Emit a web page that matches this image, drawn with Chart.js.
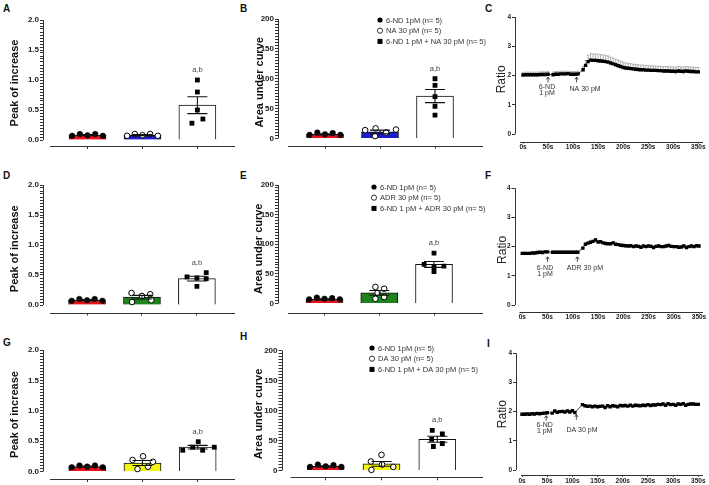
<!DOCTYPE html>
<html>
<head>
<meta charset="utf-8">
<title>6-ND and catecholamines</title>
<script src="https://cdn.jsdelivr.net/npm/chart.js@4.4.1/dist/chart.umd.min.js"></script>
<style>
  body { margin: 0; background: #fff; }
  #fig { position: relative; width: 709px; height: 485px; overflow: hidden; background: #fff; }
  #fig canvas { position: absolute; }
  .tag { position: absolute; font: bold 10px Arial, "Liberation Sans", sans-serif; color: #111; }
</style>
</head>
<body>
<div id="fig">
  <div class="tag" style="left:3px;top:3px">A</div>
  <div class="tag" style="left:240px;top:3px">B</div>
  <div class="tag" style="left:485px;top:3px">C</div>
  <div class="tag" style="left:3px;top:170px">D</div>
  <div class="tag" style="left:240px;top:170px">E</div>
  <div class="tag" style="left:485px;top:170px">F</div>
  <div class="tag" style="left:3px;top:337px">G</div>
  <div class="tag" style="left:240px;top:331px">H</div>
  <div class="tag" style="left:487px;top:338px">I</div>
</div>
<script>
var FONT = "Arial, 'Liberation Sans', sans-serif";

// ---- values ----
var ndColor = "#e8141c";
var agColors = ["#1c1ccc", "#1e821e", "#f4f414"];
var ndLabel = "6-ND 1pM (n= 5)";
var agLabels = ["NA 30 pM (n= 5)", "ADR 30 pM (n= 5)", "DA 30 pM (n= 5)"];
var mixLabels = ["6-ND 1 pM + NA 30 pM (n= 5)", "6-ND 1 pM + ADR 30 pM (n= 5)", "6-ND 1 pM + DA 30 pM (n= 5)"];
var stimLabels = ["NA 30 pM", "ADR 30 pM", "DA 30 pM"];
var sigLabel = "a,b";

// jitter of the individual cells inside each bar (category units)
var jitRow = [-0.28, -0.14, 0, 0.14, 0.28];

// NA
var peakMeanNA = [0.08, 0.08, 0.58];
var peakSemNA = [0.01, 0.01, 0.14];
var peakNdNA = [0.07, 0.10, 0.08, 0.10, 0.07];
var peakAgNA = [0.07, 0.10, 0.08, 0.10, 0.07];
var peakMixNA = [1.00, 0.80, 0.50, 0.35, 0.28];
var jitPeakMixNA = [0, 0, 0, 0.1, -0.1];
var aucMeanNA = [7, 11, 71];
var aucSemNA = [1, 3, 11];
var aucNdNA = [6, 10, 7, 9, 6];
var aucAgNA = [14, 4, 17, 10, 15];
var jitAucAgNA = [-0.27, -0.09, -0.08, 0.11, 0.29];
var aucMixNA = [100, 89, 70, 54, 39];
var jitAucMixNA = [0, 0, 0, 0, 0];

// ADR
var peakMeanADR = [0.08, 0.13, 0.44];
var peakSemADR = [0.01, 0.03, 0.04];
var peakNdADR = [0.07, 0.10, 0.08, 0.10, 0.07];
var peakAgADR = [0.20, 0.05, 0.15, 0.18, 0.08];
var jitPeakAgADR = [-0.19, -0.18, 0, 0.15, 0.17];
var peakMixADR = [0.47, 0.45, 0.54, 0.44, 0.31];
var jitPeakMixADR = [-0.18, 0, 0.17, 0.17, 0];
var aucMeanADR = [7, 18, 66];
var aucSemADR = [1, 4, 5];
var aucNdADR = [7, 10, 8, 9, 7];
var aucAgADR = [28, 25, 18, 8, 11];
var jitAucAgADR = [-0.07, 0.09, -0.03, -0.07, 0.09];
var aucMixADR = [85, 66, 63, 62, 54];
var jitAucMixADR = [0, -0.18, 0.18, 0, 0];

// DA
var peakMeanDA = [0.08, 0.14, 0.40];
var peakSemDA = [0.01, 0.04, 0.03];
var peakNdDA = [0.07, 0.10, 0.08, 0.10, 0.07];
var peakAgDA = [0.19, 0.25, 0.16, 0.04, 0.08];
var jitPeakAgDA = [-0.18, 0.01, 0.19, -0.09, 0.10];
var peakMixDA = [0.35, 0.40, 0.49, 0.35, 0.40];
var jitPeakMixDA = [-0.27, -0.09, 0.01, 0.09, 0.30];
var aucMeanDA = [7, 11, 52];
var aucSemDA = [1, 4, 5];
var aucNdDA = [6, 10, 7, 9, 6];
var aucAgDA = [15, 26, 10, 1, 6];
var jitAucAgDA = [-0.19, 0, 0.01, -0.18, 0.21];
var aucMixDA = [67, 61, 52, 45, 40];
var jitAucMixDA = [-0.09, 0.09, -0.10, 0.09, -0.07];

// ratio traces, one point every 5 s
var timeS = [0, 5, 10, 15, 20, 25, 30, 35, 40, 45,
  50, 55, 60, 65, 70, 75, 80, 85, 90, 95,
  100, 105, 110, 115, 120, 125, 130, 135, 140, 145,
  150, 155, 160, 165, 170, 175, 180, 185, 190, 195,
  200, 205, 210, 215, 220, 225, 230, 235, 240, 245,
  250, 255, 260, 265, 270, 275, 280, 285, 290, 295,
  300, 305, 310, 315, 320, 325, 330, 335, 340, 345,
  350];
var xTicks = [0, 50, 100, 150, 200, 250, 300, 350];

var ratioNA = [2.02, 2.03, 2.03, 2.03, 2.03, 2.03, 2.03, 2.04, 2.04, 2.04,
  2.05, null, 2.03, 2.05, 2.05, 2.06, 2.06, 2.06, 2.07, 2.05,
  2.05, 2.05, 2.06, null, 2.20, 2.35, 2.48, 2.53, 2.52, 2.52,
  2.51, 2.50, 2.49, 2.48, 2.46, 2.43, 2.40, 2.37, 2.34, 2.31,
  2.28, 2.26, 2.25, 2.24, 2.23, 2.22, 2.21, 2.20, 2.20, 2.19,
  2.19, 2.18, 2.18, 2.18, 2.17, 2.17, 2.16, 2.16, 2.16, 2.15,
  2.15, 2.14, 2.16, 2.15, 2.14, 2.16, 2.15, 2.14, 2.14, 2.13,
  2.13];
var ratioNAErr = [0.09, 0.09, 0.09, 0.09, 0.09, 0.09, 0.09, 0.09, 0.09, 0.09,
  0.09, null, 0.09, 0.09, 0.09, 0.09, 0.09, 0.09, 0.09, 0.09,
  0.09, 0.09, 0.09, null, 0.12, 0.17, 0.21, 0.22, 0.22, 0.22,
  0.22, 0.22, 0.21, 0.21, 0.21, 0.20, 0.20, 0.19, 0.19, 0.18,
  0.18, 0.17, 0.17, 0.17, 0.16, 0.16, 0.16, 0.16, 0.16, 0.16,
  0.15, 0.15, 0.15, 0.15, 0.15, 0.15, 0.15, 0.15, 0.15, 0.15,
  0.15, 0.15, 0.15, 0.15, 0.15, 0.15, 0.15, 0.15, 0.15, 0.15,
  0.15];
var ratioADR = [1.77, 1.77, 1.77, 1.77, 1.78, 1.78, 1.80, 1.81, 1.80, 1.82,
  1.82, null, 1.81, 1.81, 1.81, 1.81, 1.81, 1.81, 1.81, 1.81,
  1.81, 1.81, 1.81, null, 1.95, 2.08, 2.12, 2.15, 2.18, 2.23,
  2.16, 2.17, 2.13, 2.11, 2.10, 2.10, 2.13, 2.08, 2.07, 2.05,
  2.04, 2.03, 2.02, 2.03, 2.00, 2.02, 2.01, 1.98, 2.02, 2.00,
  2.02, 2.01, 1.97, 2.01, 2.02, 2.00, 2.00, 2.02, 2.04, 2.01,
  2.00, 2.00, 1.98, 1.99, 2.02, 1.97, 2.00, 2.02, 2.00, 2.03,
  2.02];
var ratioADRErr = [0.03, 0.03, 0.03, 0.03, 0.03, 0.03, 0.03, 0.03, 0.03, 0.03,
  0.03, null, 0.03, 0.03, 0.03, 0.03, 0.03, 0.03, 0.03, 0.03,
  0.03, 0.03, 0.03, null, 0.04, 0.04, 0.04, 0.04, 0.04, 0.04,
  0.04, 0.04, 0.04, 0.04, 0.04, 0.04, 0.04, 0.04, 0.04, 0.04,
  0.04, 0.04, 0.04, 0.04, 0.04, 0.04, 0.04, 0.04, 0.04, 0.04,
  0.04, 0.04, 0.04, 0.04, 0.04, 0.04, 0.04, 0.04, 0.04, 0.04,
  0.04, 0.04, 0.04, 0.04, 0.04, 0.04, 0.04, 0.04, 0.04, 0.04,
  0.04];
var ratioDA = [1.91, 1.91, 1.92, 1.91, 1.93, 1.92, 1.94, 1.93, 1.94, 1.95,
  1.96, null, 1.95, 2.02, 1.98, 2.00, 2.01, 1.99, 2.02, 1.99,
  2.03, 1.97, null, null, 2.24, 2.20, 2.18, 2.19, 2.17, 2.19,
  2.17, 2.18, 2.19, 2.14, 2.20, 2.17, 2.20, 2.19, 2.17, 2.21,
  2.20, 2.21, 2.19, 2.22, 2.19, 2.22, 2.21, 2.20, 2.22, 2.21,
  2.24, 2.21, 2.23, 2.23, 2.25, 2.24, 2.26, 2.22, 2.27, 2.24,
  2.25, 2.22, 2.26, 2.25, 2.27, 2.22, 2.25, 2.26, 2.26, 2.25,
  2.25];
var ratioDAErr = [0.03, 0.03, 0.03, 0.03, 0.03, 0.03, 0.03, 0.03, 0.03, 0.03,
  0.03, null, 0.03, 0.03, 0.03, 0.03, 0.03, 0.03, 0.03, 0.03,
  0.03, 0.03, null, null, 0.03, 0.03, 0.03, 0.03, 0.03, 0.03,
  0.03, 0.03, 0.03, 0.03, 0.03, 0.03, 0.03, 0.03, 0.03, 0.03,
  0.03, 0.03, 0.03, 0.03, 0.03, 0.03, 0.03, 0.03, 0.03, 0.03,
  0.03, 0.03, 0.03, 0.03, 0.03, 0.03, 0.03, 0.03, 0.03, 0.03,
  0.03, 0.03, 0.03, 0.03, 0.03, 0.03, 0.03, 0.03, 0.03, 0.03,
  0.03];

// ---- helpers ----
function px2val(p, pA, vA, pB, vB) {
    return vA + (p - pA) * (vB - vA) / (pB - pA);
}

function addCanvas(g) {
    var c = document.createElement('canvas');
    c.width = g.w;
    c.height = g.h;
    c.style.left = g.x + 'px';
    c.style.top = g.y + 'px';
    c.style.width = g.w + 'px';
    c.style.height = g.h + 'px';
    document.getElementById('fig').appendChild(c);
    return c;
}

// axis lines, error bars, significance text, legend and stimulus arrows
function extras(e) {
    return {
        id: 'extras',
        beforeDatasetsDraw: function (chart) {
            if (!e.upperErr) return;
            var ctx = chart.ctx, xs = chart.scales.x, ys = chart.scales.y;
            ctx.save();
            ctx.strokeStyle = '#9a9a9a';
            ctx.lineWidth = 0.8;
            ctx.beginPath();
            e.upperErr.forEach(function (err, i) {
                var v = e.values[i];
                if (err == null || v == null) return;
                var x = xs.getPixelForValue(timeS[i]);
                var y0 = ys.getPixelForValue(v), y1 = ys.getPixelForValue(v + err);
                ctx.moveTo(x, y0);
                ctx.lineTo(x, y1);
                ctx.moveTo(x - 1.2, y1);
                ctx.lineTo(x + 1.2, y1);
            });
            ctx.stroke();
            ctx.restore();
        },
        afterDatasetsDraw: function (chart) {
            var ctx = chart.ctx, xs = chart.scales.x, ys = chart.scales.y, a = chart.chartArea;
            ctx.save();
            ctx.strokeStyle = '#333';
            ctx.lineWidth = 1;
            ctx.beginPath();
            var ax = Math.round(a.left) + 0.5;
            ctx.moveTo(ax, ys.getPixelForValue(0));
            ctx.lineTo(ax, a.top);
            var by = Math.round(a.bottom) + 0.5;
            ctx.moveTo(a.left + e.gap, by);
            ctx.lineTo(a.right, by);
            ctx.stroke();

            if (e.mean) {
                ctx.strokeStyle = '#111';
                ctx.lineWidth = 1.1;
                ctx.beginPath();
                e.mean.forEach(function (m, i) {
                    var cx = xs.getPixelForValue(i);
                    var hi = ys.getPixelForValue(m + e.sem[i]), lo = ys.getPixelForValue(m - e.sem[i]);
                    ctx.moveTo(cx, lo);
                    ctx.lineTo(cx, hi);
                    ctx.moveTo(cx - 10, hi);
                    ctx.lineTo(cx + 10, hi);
                    ctx.moveTo(cx - 10, lo);
                    ctx.lineTo(cx + 10, lo);
                });
                ctx.stroke();
                ctx.fillStyle = '#444';
                ctx.font = '7.5px ' + FONT;
                ctx.textAlign = 'center';
                ctx.textBaseline = 'middle';
                ctx.fillText(sigLabel, xs.getPixelForValue(2), ys.getPixelForValue(e.sigAbove) - 10);
            }

            if (e.legend) {
                ctx.font = '7.5px ' + FONT;
                ctx.textAlign = 'left';
                ctx.textBaseline = 'middle';
                e.legend.labels.forEach(function (t, i) {
                    var lx = e.legend.x, ly = e.legend.y + i * 10.7;
                    ctx.fillStyle = '#000';
                    ctx.strokeStyle = '#000';
                    ctx.lineWidth = 0.8;
                    if (i === 2) {
                        ctx.fillRect(lx - 2.5, ly - 2.5, 5, 5);
                    } else {
                        ctx.beginPath();
                        ctx.arc(lx, ly, 2.6, 0, Math.PI * 2);
                        if (i === 0) ctx.fill(); else ctx.stroke();
                    }
                    ctx.fillStyle = '#333';
                    ctx.fillText(t, lx + 6, ly + 0.5);
                });
            }

            if (e.marks) {
                ctx.strokeStyle = '#222';
                ctx.fillStyle = '#333';
                ctx.lineWidth = 0.8;
                ctx.font = '7px ' + FONT;
                ctx.textAlign = 'center';
                ctx.textBaseline = 'middle';
                e.marks.forEach(function (m) {
                    var x = xs.getPixelForValue(m.t);
                    var y1 = ys.getPixelForValue(m.tip), y2 = ys.getPixelForValue(m.tail);
                    ctx.beginPath();
                    ctx.moveTo(x, y2);
                    ctx.lineTo(x, y1);
                    ctx.moveTo(x - 1.8, y1 + 2.4);
                    ctx.lineTo(x, y1);
                    ctx.lineTo(x + 1.8, y1 + 2.4);
                    ctx.stroke();
                    m.text.forEach(function (s, k) {
                        ctx.fillText(s, xs.getPixelForValue(m.tx), ys.getPixelForValue(m.ty[k]));
                    });
                });
            }
            ctx.restore();
        }
    };
}

function barPanel(g, p) {
    var yMin = px2val(g.bottom, g.zero, 0, g.top, p.yMax);
    var xMin = px2val(g.left, g.c0, 0, g.c2, 2);
    var xMax = px2val(g.right, g.c0, 0, g.c2, 2);
    var yTicks = [];
    for (var k = 0; k <= 40; k++) yTicks.push(p.yMax * k / 40);
    var cells = function (vals, jit, cat) {
        return vals.map(function (v, i) { return { x: cat + jit[i], y: v }; });
    };
    var legend = null;
    if (p.legend) {
        legend = { labels: p.legend, x: g.legendX - g.x, y: g.legendY - g.y };
    }
    new Chart(addCanvas(g).getContext('2d'), {
        type: 'bar',
        data: {
            datasets: [
                { type: 'scatter', data: cells(p.nd, jitRow, 0), pointStyle: 'circle', pointRadius: 2.8,
                  pointBackgroundColor: '#000', pointBorderColor: '#000', pointBorderWidth: 0.5, order: 1 },
                { type: 'scatter', data: cells(p.ag, p.jitAg, 1), pointStyle: 'circle', pointRadius: 2.8,
                  pointBackgroundColor: '#fff', pointBorderColor: '#000', pointBorderWidth: 1, order: 1 },
                { type: 'scatter', data: cells(p.mix, p.jitMix, 2), pointStyle: 'rect', pointRadius: 3.4,
                  pointBackgroundColor: '#000', pointBorderColor: '#000', pointBorderWidth: 0, order: 1 },
                { type: 'bar', data: p.mean.map(function (m, i) { return { x: i, y: m }; }),
                  backgroundColor: [ndColor, p.color, '#fff'], borderColor: '#111', borderWidth: 1,
                  barThickness: 37, order: 2 }
            ]
        },
        options: {
            responsive: false,
            animation: false,
            events: [],
            layout: { padding: { left: 0, top: g.top - g.y, right: g.x + g.w - g.right, bottom: g.y + g.h - g.bottom - 5 } },
            plugins: { legend: { display: false }, tooltip: { enabled: false } },
            scales: {
                x: {
                    type: 'linear', min: xMin, max: xMax, offset: false,
                    afterBuildTicks: function (s) { s.ticks = [0, 1, 2].map(function (v) { return { value: v }; }); },
                    afterFit: function (s) { s.height = 5; },
                    border: { display: false },
                    grid: { drawOnChartArea: false, tickLength: 3, color: '#333', offset: false },
                    ticks: { display: false }
                },
                y: {
                    type: 'linear', min: yMin, max: p.yMax,
                    afterBuildTicks: function (s) { s.ticks = yTicks.map(function (v) { return { value: v }; }); },
                    afterFit: function (s) { s.width = g.left - g.x; },
                    border: { display: false },
                    grid: { drawOnChartArea: false, tickLength: 3, color: '#333' },
                    ticks: {
                        autoSkip: false, padding: 1, color: '#222',
                        font: { size: 8, weight: 'bold', family: FONT },
                        callback: function (v) {
                            var r = v / p.major;
                            return Math.abs(r - Math.round(r)) < 1e-6 ? v.toFixed(p.dec) : '';
                        }
                    },
                    title: { display: true, text: p.title, color: '#111',
                             font: { size: 11, weight: 'bold', family: FONT },
                             padding: { top: g.titleX - g.x - 6.6, bottom: 0 } }
                }
            }
        },
        plugins: [extras({ gap: g.gap, mean: p.mean, sem: p.sem, sigAbove: Math.max.apply(null, p.mix), legend: legend })]
    });
}

function ratioPanel(g, p) {
    var yMin = px2val(g.bottom, g.zero, 0, g.top, 4);
    var xMin = px2val(g.left, g.t0, 0, g.t350, 350);
    var xMax = px2val(g.right, g.t0, 0, g.t350, 350);
    new Chart(addCanvas(g).getContext('2d'), {
        type: 'line',
        data: {
            datasets: [{
                data: timeS.map(function (t, i) { return { x: t, y: p.values[i] }; }),
                borderColor: '#111', borderWidth: 0.8, tension: 0, spanGaps: true,
                pointStyle: 'rect', pointRadius: 2.4, pointBackgroundColor: '#000', pointBorderWidth: 0
            }]
        },
        options: {
            responsive: false,
            animation: false,
            events: [],
            layout: { padding: { left: 0, top: g.top - g.y, right: g.x + g.w - g.right, bottom: g.y + g.h - g.bottom - 10 } },
            plugins: { legend: { display: false }, tooltip: { enabled: false } },
            scales: {
                x: {
                    type: 'linear', min: xMin, max: xMax,
                    afterBuildTicks: function (s) { s.ticks = xTicks.map(function (v) { return { value: v }; }); },
                    afterFit: function (s) { s.height = 10; },
                    border: { display: false },
                    grid: { drawOnChartArea: false, tickLength: 2, color: '#555' },
                    ticks: { autoSkip: false, maxRotation: 0, padding: 0, color: '#222',
                             font: { size: 6.5, weight: 'bold', family: FONT },
                             callback: function (v) { return v + 's'; } }
                },
                y: {
                    type: 'linear', min: yMin, max: 4,
                    afterBuildTicks: function (s) { s.ticks = [0, 1, 2, 3, 4].map(function (v) { return { value: v }; }); },
                    afterFit: function (s) { s.width = g.left - g.x; },
                    border: { display: false },
                    grid: { drawOnChartArea: false, tickLength: 3, color: '#333' },
                    ticks: { padding: 1, color: '#222', font: { size: 6.5, weight: 'bold', family: FONT } },
                    title: { display: true, text: 'Ratio', color: '#222',
                             font: { size: 12, family: FONT },
                             padding: { top: g.titleX - g.x - 7.2, bottom: 0 } }
                }
            }
        },
        plugins: [extras({ gap: 5, upperErr: p.err, values: p.values, marks: p.marks })]
    });
}

// ---- panels ----
var peakTitle = 'Peak of increase', aucTitle = 'Area under curve';

barPanel({ x: 0, y: 0, w: 240, h: 160, left: 43, right: 237, top: 20, zero: 140, bottom: 146, c0: 88, c2: 199, gap: 7, titleX: 15 },
    { yMax: 2, major: 0.5, dec: 1, title: peakTitle, mean: peakMeanNA, sem: peakSemNA, nd: peakNdNA,
      ag: peakAgNA, jitAg: jitRow, mix: peakMixNA, jitMix: jitPeakMixNA, color: agColors[0] });
barPanel({ x: 238, y: 0, w: 250, h: 160, left: 278, right: 483, top: 19, zero: 138.5, bottom: 145.7, c0: 325, c2: 435, gap: 10, titleX: 260,
           legendX: 380, legendY: 20 },
    { yMax: 200, major: 50, dec: 0, title: aucTitle, mean: aucMeanNA, sem: aucSemNA, nd: aucNdNA,
      ag: aucAgNA, jitAg: jitAucAgNA, mix: aucMixNA, jitMix: jitAucMixNA, color: agColors[0],
      legend: [ndLabel, agLabels[0], mixLabels[0]] });
ratioPanel({ x: 486, y: 0, w: 223, h: 160, left: 515, right: 703, top: 17, zero: 134.3, bottom: 141.7, t0: 523, t350: 698.3, titleX: 502 },
    { values: ratioNA, err: ratioNAErr,
      marks: [{ t: 50, tip: 1.95, tail: 1.77, text: ['6-ND', '1 pM'], tx: 48, ty: [1.6, 1.41] },
              { t: 107, tip: 1.95, tail: 1.77, text: [stimLabels[0]], tx: 124, ty: [1.53] }] });

barPanel({ x: 0, y: 165, w: 240, h: 160, left: 43, right: 237, top: 185, zero: 305, bottom: 312.5, c0: 87.5, c2: 198.5, gap: 7, titleX: 15 },
    { yMax: 2, major: 0.5, dec: 1, title: peakTitle, mean: peakMeanADR, sem: peakSemADR, nd: peakNdADR,
      ag: peakAgADR, jitAg: jitPeakAgADR, mix: peakMixADR, jitMix: jitPeakMixADR, color: agColors[1] });
barPanel({ x: 238, y: 165, w: 250, h: 160, left: 278, right: 483, top: 185, zero: 303.5, bottom: 312.5, c0: 324.5, c2: 434, gap: 10, titleX: 259,
           legendX: 374, legendY: 187 },
    { yMax: 200, major: 50, dec: 0, title: aucTitle, mean: aucMeanADR, sem: aucSemADR, nd: aucNdADR,
      ag: aucAgADR, jitAg: jitAucAgADR, mix: aucMixADR, jitMix: jitAucMixADR, color: agColors[1],
      legend: [ndLabel, agLabels[1], mixLabels[1]] });
ratioPanel({ x: 486, y: 165, w: 223, h: 160, left: 514.5, right: 703, top: 188.3, zero: 305, bottom: 311.5, t0: 522.3, t350: 699, titleX: 502.5 },
    { values: ratioADR, err: ratioADRErr,
      marks: [{ t: 50, tip: 1.65, tail: 1.48, text: ['6-ND', '1 pM'], tx: 45, ty: [1.26, 1.06] },
              { t: 109, tip: 1.65, tail: 1.48, text: [stimLabels[1]], tx: 124, ty: [1.26] }] });

barPanel({ x: 0, y: 330, w: 240, h: 155, left: 43, right: 237, top: 350, zero: 471.5, bottom: 479, c0: 87.7, c2: 199.3, gap: 7, titleX: 15 },
    { yMax: 2, major: 0.5, dec: 1, title: peakTitle, mean: peakMeanDA, sem: peakSemDA, nd: peakNdDA,
      ag: peakAgDA, jitAg: jitPeakAgDA, mix: peakMixDA, jitMix: jitPeakMixDA, color: agColors[2] });
barPanel({ x: 238, y: 330, w: 250, h: 155, left: 281.5, right: 483, top: 350.5, zero: 470.5, bottom: 477.3, c0: 325.7, c2: 437.3, gap: 9, titleX: 259,
           legendX: 372, legendY: 348 },
    { yMax: 200, major: 50, dec: 0, title: aucTitle, mean: aucMeanDA, sem: aucSemDA, nd: aucNdDA,
      ag: aucAgDA, jitAg: jitAucAgDA, mix: aucMixDA, jitMix: jitAucMixDA, color: agColors[2],
      legend: [ndLabel, agLabels[2], mixLabels[2]] });
ratioPanel({ x: 486, y: 330, w: 223, h: 155, left: 516, right: 703, top: 353.3, zero: 470, bottom: 475, t0: 522, t350: 698.3, titleX: 503 },
    { values: ratioDA, err: ratioDAErr,
      marks: [{ t: 48, tip: 1.86, tail: 1.69, text: ['6-ND', '1 pM'], tx: 45, ty: [1.54, 1.34] },
              { t: 108, tip: 1.9, tail: 1.72, text: [stimLabels[2]], tx: 119, ty: [1.37] }] });
</script>
</body>
</html>
